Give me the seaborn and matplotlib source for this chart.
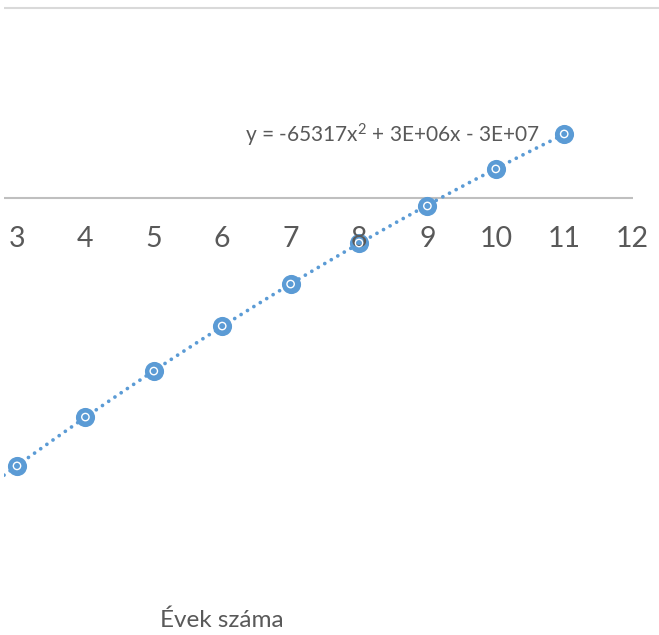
import numpy as np
import pandas as pd
import seaborn as sns
import matplotlib
matplotlib.use("Agg")
import matplotlib.pyplot as plt

# ---- data ----
years = [3, 4, 5, 6, 7, 8, 9, 10, 11]
values = [-14100000, -11530000, -9110000, -6740000, -4530000,
          -2370000, -420000, 1530000, 3370000]
tick_values = [3, 4, 5, 6, 7, 8, 9, 10, 11, 12]
equation_text = "y = -65317x$^{2}$ + 3E+06x - 3E+07"
xlabel_text = "Évek száma"

sns.set_theme(style="white")
plt.rcParams['font.family'] = ['Lato', 'DejaVu Sans']
plt.rcParams['mathtext.fontset'] = 'custom'
plt.rcParams['mathtext.rm'] = 'Lato'
plt.rcParams['mathtext.it'] = 'Lato'
plt.rcParams['mathtext.default'] = 'regular'

BLUE = "#5B9BD5"
TXT = "#595959"

df = pd.DataFrame({"x": years, "y": values})

fig = plt.figure(figsize=(6.59, 6.35), dpi=100)
ax = fig.add_axes([4 / 659, 0, 655 / 659, 1])

x0 = 3 - 13 / 68.4
x1 = 3 + (659 - 17) / 68.4
ax.set_xlim(x0, x1)
ax.set_ylim(-23.0e6, 10.42e6)

# gridline at top and axis line
ax.axhline(10e6, color="#D9D9D9", lw=1.5, zorder=0)
ax.hlines(0, x0, 12, color="#BFBFBF", lw=1.5, zorder=1)

# trendline (polynomial order 2)
coef = np.polyfit(years, values, 2)
xs = np.linspace(x0, max(years), 300)
ax.plot(xs, np.polyval(coef, xs), color=BLUE, lw=2.7,
        linestyle=(0, (0.01, 2.0)), dash_capstyle="round", zorder=2)

# markers
sns.scatterplot(data=df, x="x", y="y", ax=ax, s=190, color=BLUE,
                edgecolor=BLUE, linewidth=0, zorder=3, legend=False)
ax.scatter(years, values, s=28, facecolor="none", edgecolor="white",
           linewidths=1.0, zorder=4)

# tick labels below the axis line
for t in tick_values:
    ax.text(t, -1.45e6, str(t), ha="center", va="top", fontsize=20.5,
            color=TXT)

ax.set_xticks([])
ax.set_yticks([])
ax.set_xlabel("")
ax.set_ylabel("")
for s in ax.spines.values():
    s.set_visible(False)

ax.text(10.65, 3.32e6, equation_text, ha="right", va="center",
        fontsize=15, color=TXT)

fig.text(222 / 659, 1 - 620 / 635, xlabel_text, ha="center", va="center",
         fontsize=17.5, color=TXT)

fig.savefig("out.png", dpi=100, facecolor="white")
